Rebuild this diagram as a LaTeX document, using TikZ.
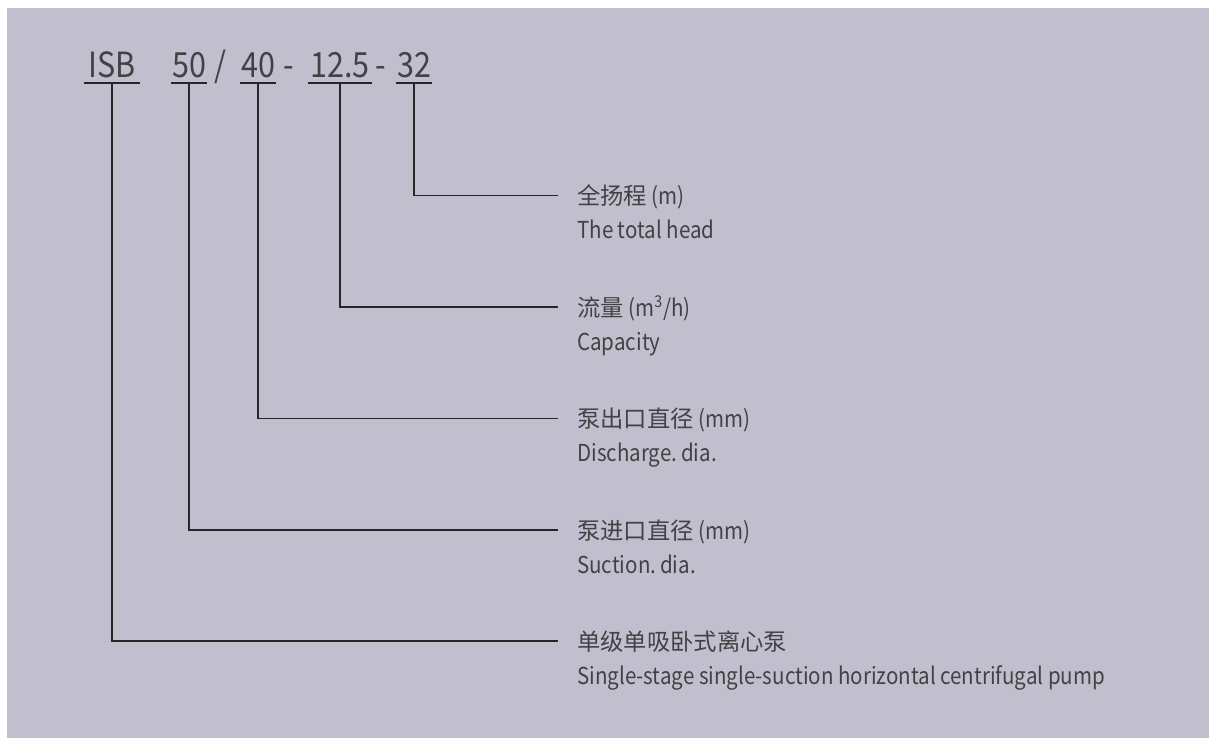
\documentclass[tikz,border=0pt]{standalone}
\usepackage{fontspec}
\setmainfont[FakeStretch=0.88]{Noto Sans CJK SC}
\newfontfamily\zhfont{Noto Sans CJK SC}
\definecolor{panel}{RGB}{193,191,206}
\definecolor{ink}{RGB}{66,66,68}
\tikzset{
  code/.style={anchor=base, inner sep=0pt, text=ink, font=\fontsize{26}{30}\selectfont},
  lbl/.style={anchor=base west, inner sep=0pt, text=ink, font=\fontsize{17.5}{21}\selectfont},
  lead/.style={line width=1.4pt, draw=black!85},
}
\begin{document}
\begin{tikzpicture}[x=0.75pt,y=-0.75pt]
        \useasboundingbox (0,0) rectangle (1209,738);
        \fill[panel] (7,8) rectangle (1209,738);

        % model code
        \node[code, minimum width=42pt] (isb) at (112,78) {ISB};
        \node[code, minimum width=27pt] (suc) at (189,78) {50};
        \node[code] (slash) at (220,78) {/};
        \node[code, minimum width=27pt] (dis) at (258,78) {40};
        \node[code] (dasha) at (289,78) {-};
        \node[code, minimum width=47.25pt] (cap) at (340,78) {12.5};
        \node[code] (dashb) at (381,78) {-};
        \node[code, minimum width=27pt] (head) at (414,78) {32};

        \draw[lead] ([yshift=-3.75pt]isb.base west) -- ([yshift=-3.75pt]isb.base east);
        \draw[lead] ([yshift=-3.75pt]suc.base west) -- ([yshift=-3.75pt]suc.base east);
        \draw[lead] ([yshift=-3.75pt]dis.base west) -- ([yshift=-3.75pt]dis.base east);
        \draw[lead] ([yshift=-3.75pt]cap.base west) -- ([yshift=-3.75pt]cap.base east);
        \draw[lead] ([yshift=-3.75pt]head.base west) -- ([yshift=-3.75pt]head.base east);

        \coordinate (isbfoot) at ([yshift=-3.75pt]isb.base);
        \coordinate (sucfoot) at ([yshift=-3.75pt]suc.base);
        \coordinate (disfoot) at ([yshift=-3.75pt]dis.base);
        \coordinate (capfoot) at ([yshift=-3.75pt]cap.base);
        \coordinate (headfoot) at ([yshift=-3.75pt]head.base);

        % ends of the leaders
        \coordinate (headend) at (558,195.5);
        \coordinate (capend) at (558,307);
        \coordinate (disend) at (558,418.5);
        \coordinate (sucend) at (558,530);
        \coordinate (isbend) at (558,641);

        \draw[lead] (headfoot) |- (headend);
        \draw[lead] (capfoot) |- (capend);
        \draw[lead] (disfoot) |- (disend);
        \draw[lead] (sucfoot) |- (sucend);
        \draw[lead] (isbfoot) |- (isbend);

        % meanings
        \node[lbl] (headzh) at (577,204.5) {{\zhfont 全扬程} (m)};
        \node[lbl] (heden) at (577,238.5) {The total head};
        \node[lbl] (capzh) at (577,316) {{\zhfont 流量} (m\textsuperscript{3}/h)};
        \node[lbl] (capen) at (577,350) {Capacity};
        \node[lbl] (diszh) at (577,427.5) {{\zhfont 泵出口直径} (mm)};
        \node[lbl] (disen) at (577,461.5) {Discharge.\,dia.};
        \node[lbl] (suczh) at (577,539) {{\zhfont 泵进口直径} (mm)};
        \node[lbl] (sucen) at (577,573) {Suction.\,dia.};
        \node[lbl] (isbzh) at (577,650) {{\zhfont 单级单吸卧式离心泵}};
        \node[lbl] (isben) at (577,684) {Single-stage single-suction horizontal centrifugal pump};
\end{tikzpicture}
\end{document}
